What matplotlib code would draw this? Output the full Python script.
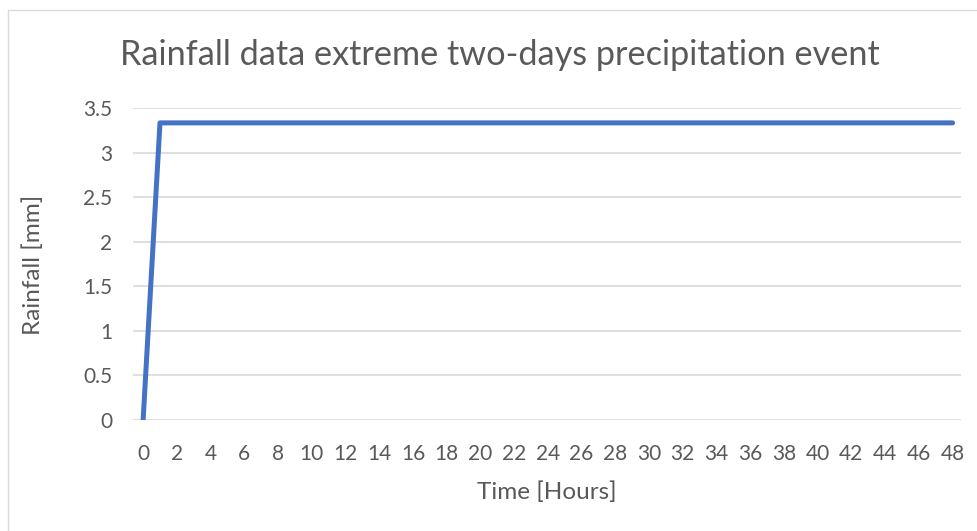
import matplotlib.pyplot as plt
from matplotlib.patches import Rectangle

# Hourly rainfall, extreme two-day event
hours = list(range(49))
rainfall = [0.0] + [3.333] * 48
x_tick_labels = [str(h) for h in range(0, 49, 2)]
y_ticks = [0, 0.5, 1, 1.5, 2, 2.5, 3, 3.5]
y_tick_labels = ['0', '0.5', '1', '1.5', '2', '2.5', '3', '3.5']

plt.rcParams['font.family'] = ['Lato', 'DejaVu Sans']
text_grey = '#595959'

fig = plt.figure(figsize=(9.78, 5.31), dpi=100)
W, H = 978, 531

# chart area border (only top/left edges visible in the crop)
fig.patches.append(Rectangle((8 / W, -0.1), 1.2, 1 - 10 / H + 0.1,
                             transform=fig.transFigure, fill=False,
                             edgecolor='#D9D9D9', linewidth=1.0))

ax = fig.add_axes([133 / W, (H - 420) / H, (961 - 133) / W, (420 - 108) / H])
ax.plot(hours, rainfall, color='#4472C4', linewidth=3.6,
        solid_capstyle='round', solid_joinstyle='round', zorder=3)

ax.set_xlim(-0.6, 48.5)
ax.set_ylim(0, 3.5)
ax.set_xticks(range(0, 49, 2))
ax.set_xticklabels(x_tick_labels)
ax.set_yticks(y_ticks)
ax.set_yticklabels(y_tick_labels)
ax.yaxis.grid(True, color='#D9D9D9', linewidth=1.2)
ax.set_axisbelow(True)
for s in ax.spines.values():
    s.set_visible(False)
ax.tick_params(length=0, labelsize=15, colors=text_grey)
ax.tick_params(axis='x', pad=17)
ax.tick_params(axis='y', pad=15)

fig.text(500 / W, 1 - 65 / H, 'Rainfall data extreme two-days precipitation event',
         fontsize=24.7, color=text_grey, ha='center', va='baseline')
fig.text(547 / W, 1 - 492 / H, 'Time [Hours]', fontsize=17.5, color=text_grey,
         ha='center', va='center')
fig.text(33 / W, 1 - 265 / H, 'Rainfall [mm]', fontsize=17.5, color=text_grey,
         ha='center', va='center', rotation=90)

fig.savefig('out.png', dpi=100)
